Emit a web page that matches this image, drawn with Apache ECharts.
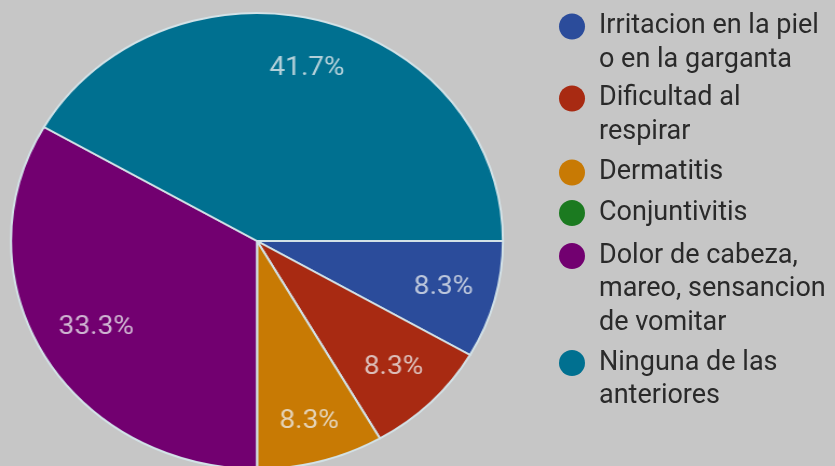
<!DOCTYPE html>
<html><head><meta charset="utf-8">
<script src="https://cdn.jsdelivr.net/npm/echarts@6/dist/echarts.min.js"></script>
<style>
html,body{margin:0;padding:0;background:#c6c6c6;overflow:hidden;}
#wrap{position:relative;width:835px;height:466px;overflow:hidden;}
#pie{position:absolute;left:0;top:0;width:774px;height:466px;transform:scaleX(1.0788);transform-origin:0 0;}
#leg{position:absolute;left:0;top:0;width:835px;height:466px;}
</style></head><body>
<div id="wrap"><div id="pie"></div><div id="leg"></div></div>
<script>
const categories = ['Irritacion en la piel o en la garganta', 'Dificultad al respirar', 'Dermatitis', 'Conjuntivitis', 'Dolor de cabeza, mareo, sensancion de vomitar', 'Ninguna de las anteriores'];
const legendLines = [['Irritacion en la piel', 'o en la garganta'], ['Dificultad al', 'respirar'], ['Dermatitis'], ['Conjuntivitis'], ['Dolor de cabeza,', 'mareo, sensancion', 'de vomitar'], ['Ninguna de las', 'anteriores']];
const values = [1, 1, 1, 0, 4, 5];
const colors = ['#2b4c9b', '#a82a12', '#c87a04', '#1b7a20', '#720070', '#007090'];
const legendCenters = [26.5, 98.5, 172.5, 213, 256, 363];

const total = values.reduce((a, b) => a + b, 0);
const data = categories.map((c, i) => ({ name: c, value: values[i], itemStyle: { color: colors[i] } }));
// small per-slice nudges of the percentage labels (style only)
const labelNudge = { 2: [2, 8], 4: [6, -3.5] };
const labelData = categories.map((c, i) => {
  const d = { name: c, value: values[i] };
  if (labelNudge[i]) d.label = { offset: labelNudge[i] };
  return d;
});

const pie = echarts.init(document.getElementById('pie'));
pie.setOption({
  backgroundColor: '#c6c6c6',
  animation: false,
  series: [
    {
      type: 'pie',
      center: [238.2, 241],
      radius: 228,
      startAngle: 0,
      clockwise: true,
      avoidLabelOverlap: false,
      label: { show: false },
      labelLine: { show: false },
      itemStyle: { borderColor: '#d3e2e7', borderWidth: 2 },
      emphasis: { disabled: true },
      data: data
    },
    {
      type: 'pie',
      center: [238.2, 241],
      radius: [124, 228],
      startAngle: 0,
      clockwise: true,
      silent: true,
      avoidLabelOverlap: false,
      itemStyle: { color: 'rgba(0,0,0,0)' },
      label: {
        show: true,
        position: 'inside',
        fontFamily: 'Roboto',
        fontSize: 26,
        color: 'rgba(238,240,242,0.75)',
        formatter: p => p.value ? (p.value / total * 100).toFixed(1) + '%' : ''
      },
      labelLine: { show: false },
      emphasis: { disabled: true },
      data: labelData
    }
  ]
});

const L = 33.5;
function iconPath(n) {
  const h = n * L, c = L / 2, r = 13;
  return 'path://M13 0L13 0M0 ' + c + 'A' + r + ' ' + r + ' 0 1 0 26 ' + c + 'A' + r + ' ' + r + ' 0 1 0 0 ' + c + 'ZM13 ' + h + 'L13 ' + h;
}

const leg = echarts.init(document.getElementById('leg'));
leg.setOption({
  animation: false,
  legend: categories.map((name, i) => ({
    orient: 'vertical',
    left: 559,
    top: legendCenters[i] - L / 2,
    padding: 0,
    itemWidth: 26,
    itemHeight: legendLines[i].length * L,
    icon: iconPath(legendLines[i].length),
    itemStyle: { borderWidth: 0 },
    selectedMode: false,
    data: [name],
    formatter: () => legendLines[i].join('\n'),
    textStyle: {
      fontFamily: 'Roboto',
      fontSize: 27,
      lineHeight: L,
      color: '#2a2a2a',
      padding: [0, 0, 0, 9]
    }
  })),
  series: [{
    type: 'pie',
    center: [-100, -100],
    radius: [0, 1],
    silent: true,
    label: { show: false },
    labelLine: { show: false },
    itemStyle: { borderWidth: 0 },
    data: data
  }]
});
</script>
</body></html>
